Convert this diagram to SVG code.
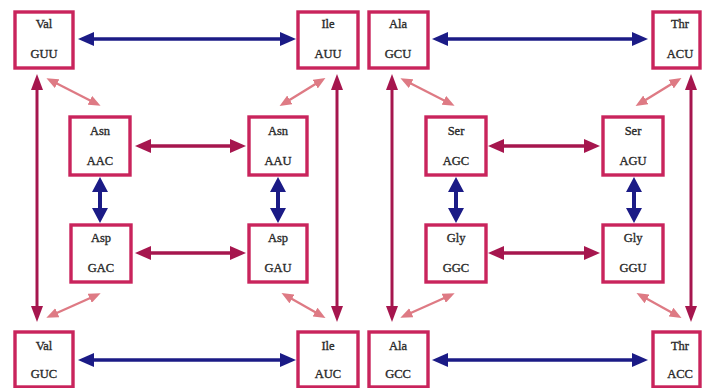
<svg xmlns="http://www.w3.org/2000/svg" width="704" height="388" viewBox="0 0 704 388">
<style>
.box{fill:#fff;stroke:#c9245c;stroke-width:3.4}
.t{font-family:"Liberation Serif","DejaVu Serif",serif;font-size:12.5px;fill:#2a2a2a;stroke:#2a2a2a;stroke-width:0.35;text-anchor:middle}
.blue{stroke:#1b1b86;stroke-width:3.5;fill:none;marker-start:url(#mb);marker-end:url(#mb)}
.bluev{stroke:#1b1b86;stroke-width:4;fill:none;marker-start:url(#mbv);marker-end:url(#mbv)}
.red{stroke:#a6164e;stroke-width:3.5;fill:none;marker-start:url(#mr);marker-end:url(#mr)}
.redv{stroke:#a6164e;stroke-width:3;fill:none;marker-start:url(#mrv);marker-end:url(#mrv)}
.pink{stroke:#de7a84;stroke-width:2.3;fill:none;marker-start:url(#mp);marker-end:url(#mp)}
</style>
<defs>
<marker id="mb" markerUnits="userSpaceOnUse" viewBox="0 0 16 14" markerWidth="16" markerHeight="14" refX="11" refY="7" orient="auto-start-reverse"><path d="M0,0 L16,7 L0,14 Z" fill="#1b1b86"/></marker>
<marker id="mbv" markerUnits="userSpaceOnUse" viewBox="0 0 15 16" markerWidth="15" markerHeight="16" refX="10" refY="8" orient="auto-start-reverse"><path d="M0,0 L15,8 L0,16 Z" fill="#1b1b86"/></marker>
<marker id="mr" markerUnits="userSpaceOnUse" viewBox="0 0 16 14" markerWidth="16" markerHeight="14" refX="11" refY="7" orient="auto-start-reverse"><path d="M0,0 L16,7 L0,14 Z" fill="#a6164e"/></marker>
<marker id="mrv" markerUnits="userSpaceOnUse" viewBox="0 0 16 12" markerWidth="16" markerHeight="12" refX="11" refY="6" orient="auto-start-reverse"><path d="M0,0 L16,6 L0,12 Z" fill="#a6164e"/></marker>
<marker id="mp" markerUnits="userSpaceOnUse" viewBox="0 0 12 10" markerWidth="12" markerHeight="10" refX="8" refY="5" orient="auto-start-reverse"><path d="M0,0 L12,5 L0,10 Z" fill="#de7a84"/></marker>
</defs>
<rect width="704" height="388" fill="#fff"/>
<g id="connectors">
<line class="blue" x1="83" y1="39" x2="291" y2="39"/>
<line class="blue" x1="83" y1="360" x2="291" y2="360"/>
<line class="red" x1="140" y1="146" x2="241" y2="146"/>
<line class="red" x1="140" y1="253" x2="241" y2="253"/>
<line class="bluev" x1="100" y1="182" x2="100" y2="218"/>
<line class="bluev" x1="278" y1="182" x2="278" y2="218"/>
<line class="redv" x1="37" y1="79" x2="37" y2="317"/>
<line class="redv" x1="337" y1="79" x2="337" y2="317"/>
<line class="pink" x1="50" y1="80" x2="97" y2="104"/>
<line class="pink" x1="322" y1="80" x2="283" y2="104"/>
<line class="pink" x1="97" y1="295" x2="50" y2="316"/>
<line class="pink" x1="285" y1="295" x2="322" y2="316"/>
<line class="blue" x1="437" y1="39" x2="643" y2="39"/>
<line class="blue" x1="437" y1="360" x2="643" y2="360"/>
<line class="red" x1="493" y1="146" x2="595" y2="146"/>
<line class="red" x1="493" y1="253" x2="595" y2="253"/>
<line class="bluev" x1="456" y1="182" x2="456" y2="218"/>
<line class="bluev" x1="634" y1="182" x2="634" y2="218"/>
<line class="redv" x1="392" y1="79" x2="392" y2="317"/>
<line class="redv" x1="691" y1="79" x2="691" y2="317"/>
<line class="pink" x1="404" y1="80" x2="451" y2="104"/>
<line class="pink" x1="678" y1="80" x2="639" y2="104"/>
<line class="pink" x1="451" y1="295" x2="404" y2="316"/>
<line class="pink" x1="640" y1="295" x2="678" y2="316"/>
</g>
<g id="val-guu"><rect class="box" x="15" y="12" width="58" height="56"/><text class="t" x="44" y="28">Val</text><text class="t" x="44" y="58">GUU</text></g>
<g id="ile-auu"><rect class="box" x="298" y="12" width="60" height="56"/><text class="t" x="328" y="28">Ile</text><text class="t" x="328" y="58">AUU</text></g>
<g id="asn-aac"><rect class="box" x="70" y="117" width="60" height="58"/><text class="t" x="100" y="135">Asn</text><text class="t" x="100" y="165">AAC</text></g>
<g id="asn-aau"><rect class="box" x="249" y="117" width="58" height="58"/><text class="t" x="278" y="135">Asn</text><text class="t" x="278" y="165">AAU</text></g>
<g id="asp-gac"><rect class="box" x="71" y="225" width="60" height="57"/><text class="t" x="101" y="242">Asp</text><text class="t" x="101" y="272">GAC</text></g>
<g id="asp-gau"><rect class="box" x="249" y="225" width="58" height="57"/><text class="t" x="278" y="242">Asp</text><text class="t" x="278" y="272">GAU</text></g>
<g id="val-guc"><rect class="box" x="15" y="332" width="58" height="55"/><text class="t" x="44" y="350">Val</text><text class="t" x="44" y="378">GUC</text></g>
<g id="ile-auc"><rect class="box" x="298" y="332" width="60" height="55"/><text class="t" x="328" y="350">Ile</text><text class="t" x="328" y="378">AUC</text></g>
<g id="ala-gcu"><rect class="box" x="369" y="12" width="59" height="56"/><text class="t" x="398" y="28">Ala</text><text class="t" x="398" y="58">GCU</text></g>
<g id="thr-acu"><rect class="box" x="653" y="12" width="47" height="56"/><text class="t" x="680" y="28">Thr</text><text class="t" x="680" y="58">ACU</text></g>
<g id="ser-agc"><rect class="box" x="426" y="117" width="60" height="58"/><text class="t" x="456" y="135">Ser</text><text class="t" x="456" y="165">AGC</text></g>
<g id="ser-agu"><rect class="box" x="603" y="117" width="60" height="58"/><text class="t" x="633" y="135">Ser</text><text class="t" x="633" y="165">AGU</text></g>
<g id="gly-ggc"><rect class="box" x="426" y="225" width="60" height="57"/><text class="t" x="456" y="242">Gly</text><text class="t" x="456" y="272">GGC</text></g>
<g id="gly-ggu"><rect class="box" x="603" y="225" width="60" height="57"/><text class="t" x="633" y="242">Gly</text><text class="t" x="633" y="272">GGU</text></g>
<g id="ala-gcc"><rect class="box" x="369" y="332" width="59" height="55"/><text class="t" x="398" y="350">Ala</text><text class="t" x="398" y="378">GCC</text></g>
<g id="thr-acc"><rect class="box" x="653" y="332" width="47" height="55"/><text class="t" x="680" y="350">Thr</text><text class="t" x="680" y="378">ACC</text></g>
</svg>
